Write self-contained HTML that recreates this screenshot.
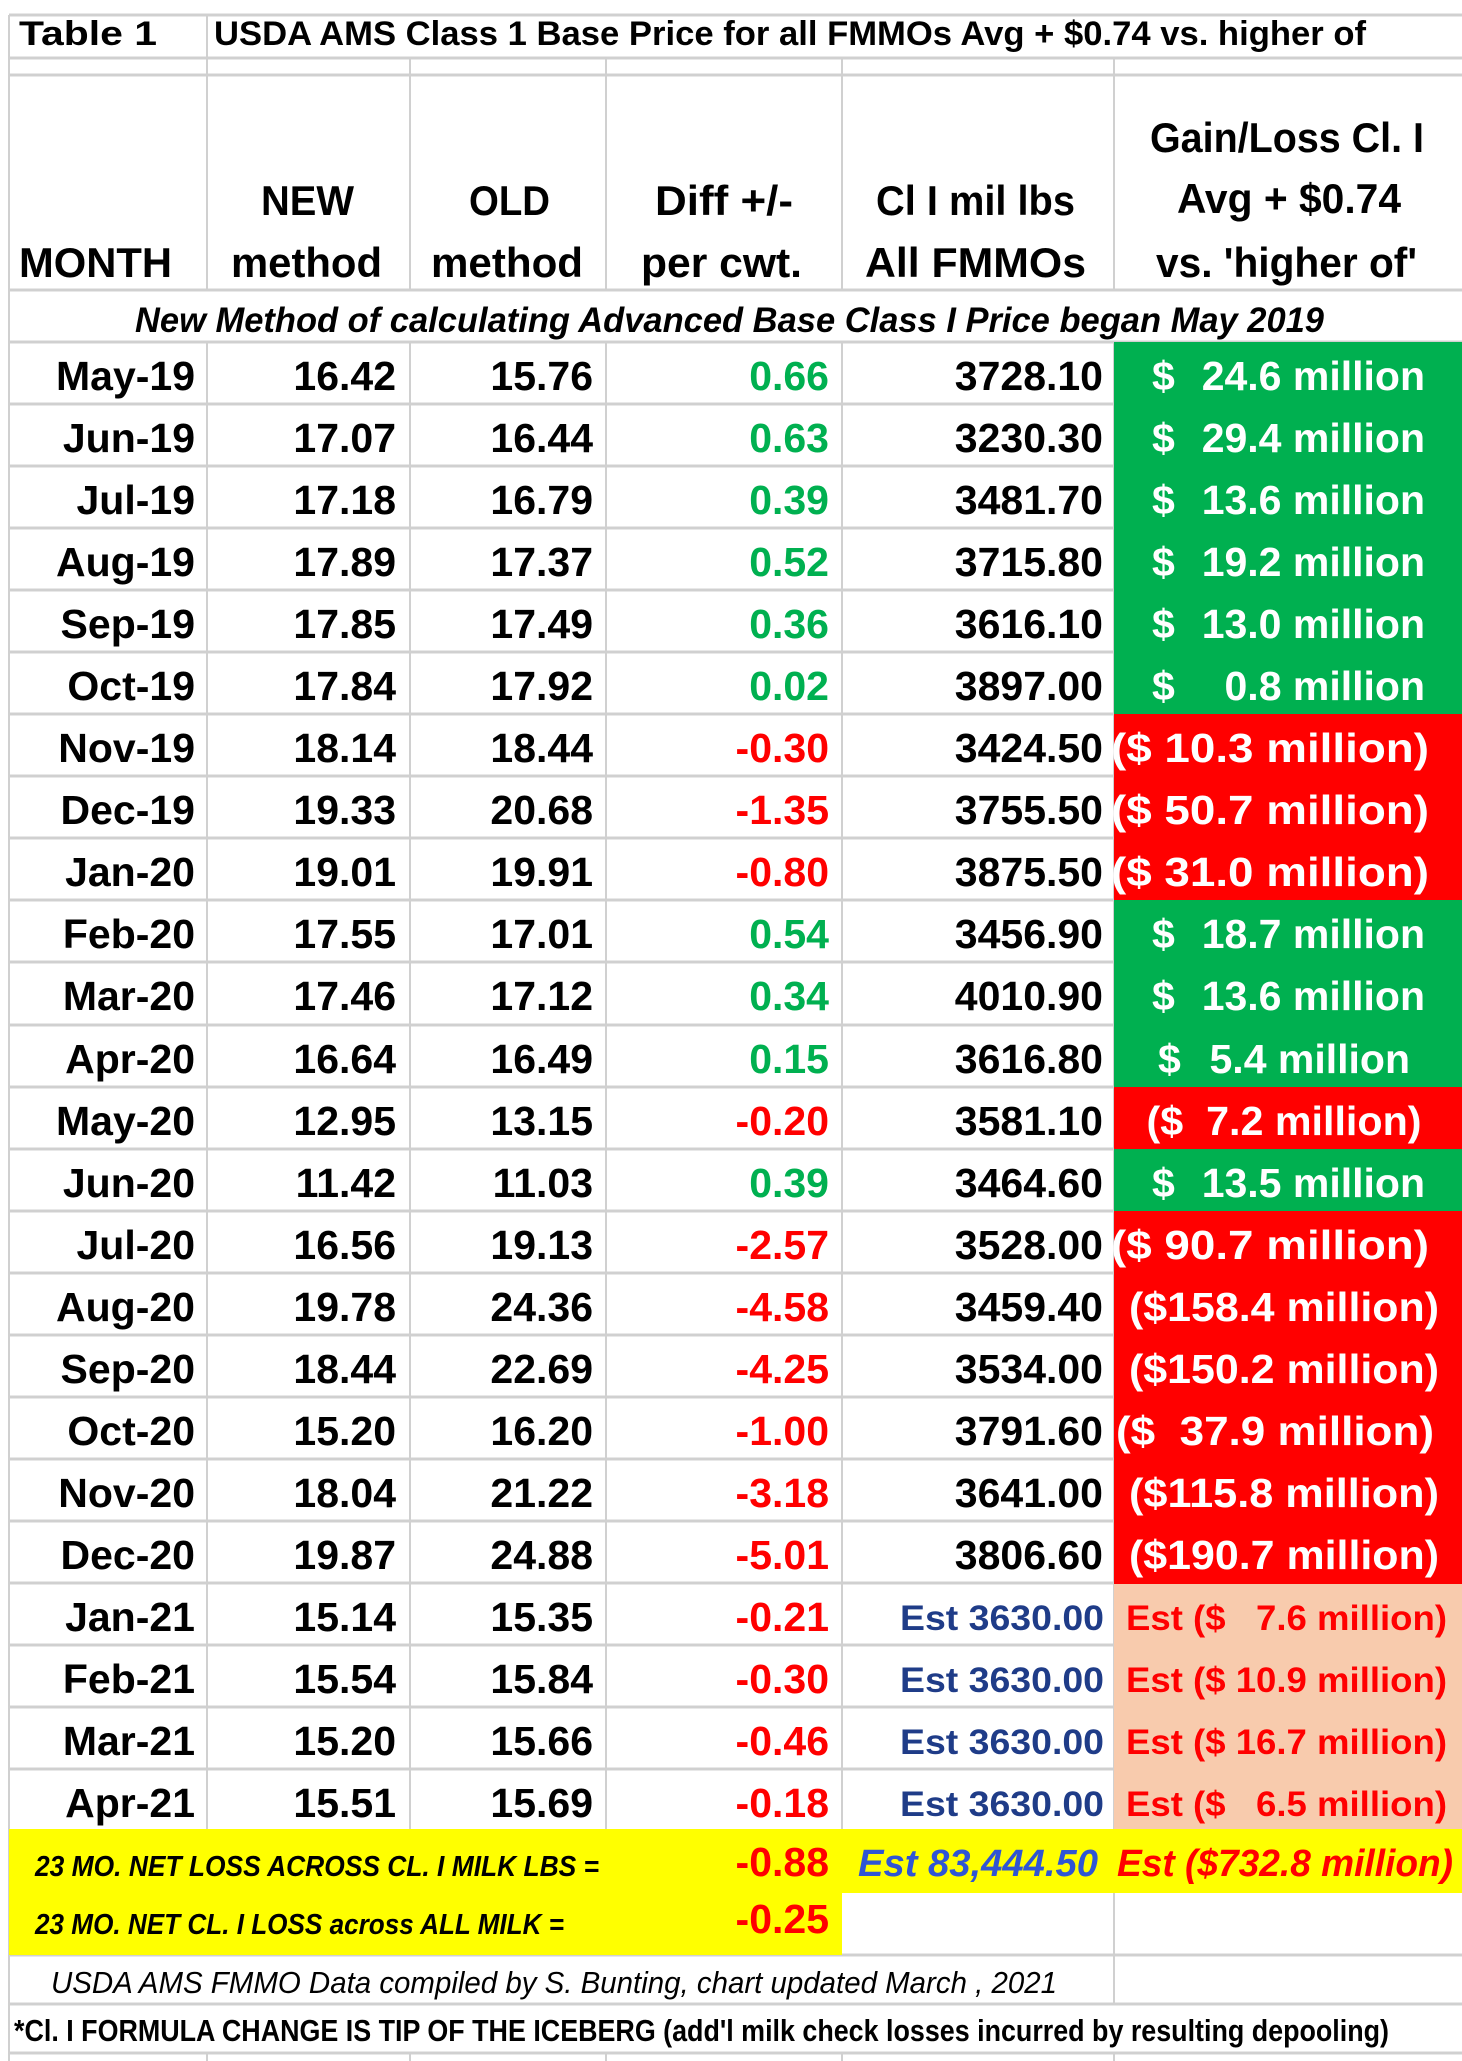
<!DOCTYPE html>
<html><head><meta charset="utf-8"><style>
html,body{margin:0;padding:0;background:#fff;}
svg{display:block;}
text{font-family:"Liberation Sans",sans-serif;white-space:pre;}
.d{font-size:41px;font-weight:bold;fill:#000;text-anchor:end;}
.g{fill:#00b050;} .r{fill:#ff0000;}
.w{font-size:41px;font-weight:bold;fill:#fff;}
.h{font-size:42px;font-weight:bold;fill:#000;}
.e{font-size:35px;font-weight:bold;fill:#1f3c88;text-anchor:end;}
.pe{font-size:35px;font-weight:bold;fill:#ff0000;}
</style></head><body>
<svg width="1462" height="2061" viewBox="0 0 1462 2061" xmlns="http://www.w3.org/2000/svg">
<rect width="1462" height="2061" fill="#fff"/>
<g stroke="#d0d0d0" stroke-width="3">
<line x1="9" y1="15" x2="1462" y2="15"/>
<line x1="9" y1="58" x2="1462" y2="58"/>
<line x1="9" y1="75" x2="1462" y2="75"/>
<line x1="9" y1="290" x2="1462" y2="290"/>
<line x1="9" y1="342" x2="1462" y2="342"/>
<line x1="9" y1="404" x2="1462" y2="404"/><line x1="9" y1="466" x2="1462" y2="466"/><line x1="9" y1="528" x2="1462" y2="528"/><line x1="9" y1="590" x2="1462" y2="590"/><line x1="9" y1="652" x2="1462" y2="652"/><line x1="9" y1="714" x2="1462" y2="714"/><line x1="9" y1="776" x2="1462" y2="776"/><line x1="9" y1="838" x2="1462" y2="838"/><line x1="9" y1="900" x2="1462" y2="900"/><line x1="9" y1="962" x2="1462" y2="962"/><line x1="9" y1="1025" x2="1462" y2="1025"/><line x1="9" y1="1087" x2="1462" y2="1087"/><line x1="9" y1="1149" x2="1462" y2="1149"/><line x1="9" y1="1211" x2="1462" y2="1211"/><line x1="9" y1="1273" x2="1462" y2="1273"/><line x1="9" y1="1335" x2="1462" y2="1335"/><line x1="9" y1="1397" x2="1462" y2="1397"/><line x1="9" y1="1459" x2="1462" y2="1459"/><line x1="9" y1="1521" x2="1462" y2="1521"/><line x1="9" y1="1583" x2="1462" y2="1583"/><line x1="9" y1="1645" x2="1462" y2="1645"/><line x1="9" y1="1707" x2="1462" y2="1707"/><line x1="9" y1="1769" x2="1462" y2="1769"/>
<line x1="9" y1="1955" x2="1462" y2="1955"/>
<line x1="9" y1="2004" x2="1462" y2="2004"/>
<line x1="9" y1="2053" x2="1462" y2="2053"/>
</g>
<g stroke="#d0d0d0" stroke-width="2">
<line x1="9" y1="15" x2="9" y2="2061"/>
<line x1="207" y1="15" x2="207" y2="290"/>
<line x1="410" y1="58" x2="410" y2="290"/><line x1="606" y1="58" x2="606" y2="290"/><line x1="842" y1="58" x2="842" y2="290"/><line x1="1114" y1="58" x2="1114" y2="290"/>
<line x1="207" y1="342" x2="207" y2="1831"/><line x1="410" y1="342" x2="410" y2="1831"/><line x1="606" y1="342" x2="606" y2="1831"/><line x1="842" y1="342" x2="842" y2="1831"/><line x1="1114" y1="342" x2="1114" y2="1831"/>
<line x1="1114" y1="1893" x2="1114" y2="2004"/>
<line x1="207" y1="2053" x2="207" y2="2061"/><line x1="410" y1="2053" x2="410" y2="2061"/><line x1="606" y1="2053" x2="606" y2="2061"/><line x1="842" y1="2053" x2="842" y2="2061"/><line x1="1114" y1="2053" x2="1114" y2="2061"/>
</g>
<g>
<rect x="1114" y="342" width="348" height="373" fill="#00b050"/>
<rect x="1114" y="714" width="348" height="187" fill="#ff0000"/>
<rect x="1114" y="900" width="348" height="187" fill="#00b050"/>
<rect x="1114" y="1087" width="348" height="62" fill="#ff0000"/>
<rect x="1114" y="1149" width="348" height="62" fill="#00b050"/>
<rect x="1114" y="1211" width="348" height="373" fill="#ff0000"/>
<rect x="1114" y="1584" width="348" height="246" fill="#f8cbad"/>
<rect x="9" y="1829" width="1453" height="64" fill="#ffff00"/>
<rect x="9" y="1893" width="833" height="62" fill="#ffff00"/>
</g>
<text x="19" y="45" class="h" textLength="138" lengthAdjust="spacingAndGlyphs" style="font-size:34px">Table 1</text>
<text x="214" y="45" class="h" textLength="1152" lengthAdjust="spacingAndGlyphs" style="font-size:34px">USDA AMS Class 1 Base Price for all FMMOs Avg + $0.74 vs. higher of</text>
<text x="19" y="277" class="h" textLength="153" lengthAdjust="spacingAndGlyphs">MONTH</text>
<text x="261" y="215" class="h" textLength="93" lengthAdjust="spacingAndGlyphs">NEW</text>
<text x="231" y="277" class="h" textLength="151" lengthAdjust="spacingAndGlyphs">method</text>
<text x="469" y="215" class="h" textLength="81" lengthAdjust="spacingAndGlyphs">OLD</text>
<text x="431" y="277" class="h" textLength="152" lengthAdjust="spacingAndGlyphs">method</text>
<text x="655" y="215" class="h" textLength="138" lengthAdjust="spacingAndGlyphs">Diff +/-</text>
<text x="641" y="277" class="h" textLength="161" lengthAdjust="spacingAndGlyphs">per cwt.</text>
<text x="876" y="215" class="h" textLength="199" lengthAdjust="spacingAndGlyphs">Cl I mil lbs</text>
<text x="865" y="277" class="h" textLength="221" lengthAdjust="spacingAndGlyphs">All FMMOs</text>
<text x="1150" y="152" class="h" textLength="274" lengthAdjust="spacingAndGlyphs">Gain/Loss Cl. I</text>
<text x="1177" y="213" class="h" textLength="224" lengthAdjust="spacingAndGlyphs">Avg + $0.74</text>
<text x="1156" y="277" class="h" textLength="261" lengthAdjust="spacingAndGlyphs">vs. 'higher of'</text>
<text x="135" y="332" class="h" textLength="1189" lengthAdjust="spacingAndGlyphs" style="font-size:35px;font-style:italic">New Method of calculating Advanced Base Class I Price began May 2019</text>

<g transform="translate(0,342)"><text x="195" y="48" class="d">May-19</text><text x="396" y="48" class="d">16.42</text><text x="593" y="48" class="d">15.76</text><text x="829" y="48" class="d g">0.66</text><text x="1103" y="48" class="d">3728.10</text><text x="1152" y="48" class="w">$</text><text x="1425" y="48" class="w" text-anchor="end">24.6 million</text></g>
<g transform="translate(0,404)"><text x="195" y="48" class="d">Jun-19</text><text x="396" y="48" class="d">17.07</text><text x="593" y="48" class="d">16.44</text><text x="829" y="48" class="d g">0.63</text><text x="1103" y="48" class="d">3230.30</text><text x="1152" y="48" class="w">$</text><text x="1425" y="48" class="w" text-anchor="end">29.4 million</text></g>
<g transform="translate(0,466)"><text x="195" y="48" class="d">Jul-19</text><text x="396" y="48" class="d">17.18</text><text x="593" y="48" class="d">16.79</text><text x="829" y="48" class="d g">0.39</text><text x="1103" y="48" class="d">3481.70</text><text x="1152" y="48" class="w">$</text><text x="1425" y="48" class="w" text-anchor="end">13.6 million</text></g>
<g transform="translate(0,528)"><text x="195" y="48" class="d">Aug-19</text><text x="396" y="48" class="d">17.89</text><text x="593" y="48" class="d">17.37</text><text x="829" y="48" class="d g">0.52</text><text x="1103" y="48" class="d">3715.80</text><text x="1152" y="48" class="w">$</text><text x="1425" y="48" class="w" text-anchor="end">19.2 million</text></g>
<g transform="translate(0,590)"><text x="195" y="48" class="d">Sep-19</text><text x="396" y="48" class="d">17.85</text><text x="593" y="48" class="d">17.49</text><text x="829" y="48" class="d g">0.36</text><text x="1103" y="48" class="d">3616.10</text><text x="1152" y="48" class="w">$</text><text x="1425" y="48" class="w" text-anchor="end">13.0 million</text></g>
<g transform="translate(0,652)"><text x="195" y="48" class="d">Oct-19</text><text x="396" y="48" class="d">17.84</text><text x="593" y="48" class="d">17.92</text><text x="829" y="48" class="d g">0.02</text><text x="1103" y="48" class="d">3897.00</text><text x="1152" y="48" class="w">$</text><text x="1425" y="48" class="w" text-anchor="end">0.8 million</text></g>
<g transform="translate(0,714)"><text x="195" y="48" class="d">Nov-19</text><text x="396" y="48" class="d">18.14</text><text x="593" y="48" class="d">18.44</text><text x="829" y="48" class="d r">-0.30</text><text x="1103" y="48" class="d">3424.50</text><text x="1270" y="48" class="w" text-anchor="middle" textLength="318" lengthAdjust="spacingAndGlyphs">($ 10.3 million)</text></g>
<g transform="translate(0,776)"><text x="195" y="48" class="d">Dec-19</text><text x="396" y="48" class="d">19.33</text><text x="593" y="48" class="d">20.68</text><text x="829" y="48" class="d r">-1.35</text><text x="1103" y="48" class="d">3755.50</text><text x="1270" y="48" class="w" text-anchor="middle" textLength="318" lengthAdjust="spacingAndGlyphs">($ 50.7 million)</text></g>
<g transform="translate(0,838)"><text x="195" y="48" class="d">Jan-20</text><text x="396" y="48" class="d">19.01</text><text x="593" y="48" class="d">19.91</text><text x="829" y="48" class="d r">-0.80</text><text x="1103" y="48" class="d">3875.50</text><text x="1270" y="48" class="w" text-anchor="middle" textLength="318" lengthAdjust="spacingAndGlyphs">($ 31.0 million)</text></g>
<g transform="translate(0,900)"><text x="195" y="48" class="d">Feb-20</text><text x="396" y="48" class="d">17.55</text><text x="593" y="48" class="d">17.01</text><text x="829" y="48" class="d g">0.54</text><text x="1103" y="48" class="d">3456.90</text><text x="1152" y="48" class="w">$</text><text x="1425" y="48" class="w" text-anchor="end">18.7 million</text></g>
<g transform="translate(0,962)"><text x="195" y="48" class="d">Mar-20</text><text x="396" y="48" class="d">17.46</text><text x="593" y="48" class="d">17.12</text><text x="829" y="48" class="d g">0.34</text><text x="1103" y="48" class="d">4010.90</text><text x="1152" y="48" class="w">$</text><text x="1425" y="48" class="w" text-anchor="end">13.6 million</text></g>
<g transform="translate(0,1025)"><text x="195" y="48" class="d">Apr-20</text><text x="396" y="48" class="d">16.64</text><text x="593" y="48" class="d">16.49</text><text x="829" y="48" class="d g">0.15</text><text x="1103" y="48" class="d">3616.80</text><text x="1158" y="48" class="w">$</text><text x="1410" y="48" class="w" text-anchor="end">5.4 million</text></g>
<g transform="translate(0,1087)"><text x="195" y="48" class="d">May-20</text><text x="396" y="48" class="d">12.95</text><text x="593" y="48" class="d">13.15</text><text x="829" y="48" class="d r">-0.20</text><text x="1103" y="48" class="d">3581.10</text><text x="1284" y="48" class="w" text-anchor="middle" textLength="275" lengthAdjust="spacingAndGlyphs">($  7.2 million)</text></g>
<g transform="translate(0,1149)"><text x="195" y="48" class="d">Jun-20</text><text x="396" y="48" class="d">11.42</text><text x="593" y="48" class="d">11.03</text><text x="829" y="48" class="d g">0.39</text><text x="1103" y="48" class="d">3464.60</text><text x="1152" y="48" class="w">$</text><text x="1425" y="48" class="w" text-anchor="end">13.5 million</text></g>
<g transform="translate(0,1211)"><text x="195" y="48" class="d">Jul-20</text><text x="396" y="48" class="d">16.56</text><text x="593" y="48" class="d">19.13</text><text x="829" y="48" class="d r">-2.57</text><text x="1103" y="48" class="d">3528.00</text><text x="1270" y="48" class="w" text-anchor="middle" textLength="318" lengthAdjust="spacingAndGlyphs">($ 90.7 million)</text></g>
<g transform="translate(0,1273)"><text x="195" y="48" class="d">Aug-20</text><text x="396" y="48" class="d">19.78</text><text x="593" y="48" class="d">24.36</text><text x="829" y="48" class="d r">-4.58</text><text x="1103" y="48" class="d">3459.40</text><text x="1284" y="48" class="w" text-anchor="middle" textLength="310" lengthAdjust="spacingAndGlyphs">($158.4 million)</text></g>
<g transform="translate(0,1335)"><text x="195" y="48" class="d">Sep-20</text><text x="396" y="48" class="d">18.44</text><text x="593" y="48" class="d">22.69</text><text x="829" y="48" class="d r">-4.25</text><text x="1103" y="48" class="d">3534.00</text><text x="1284" y="48" class="w" text-anchor="middle" textLength="310" lengthAdjust="spacingAndGlyphs">($150.2 million)</text></g>
<g transform="translate(0,1397)"><text x="195" y="48" class="d">Oct-20</text><text x="396" y="48" class="d">15.20</text><text x="593" y="48" class="d">16.20</text><text x="829" y="48" class="d r">-1.00</text><text x="1103" y="48" class="d">3791.60</text><text x="1275" y="48" class="w" text-anchor="middle" textLength="318" lengthAdjust="spacingAndGlyphs">($  37.9 million)</text></g>
<g transform="translate(0,1459)"><text x="195" y="48" class="d">Nov-20</text><text x="396" y="48" class="d">18.04</text><text x="593" y="48" class="d">21.22</text><text x="829" y="48" class="d r">-3.18</text><text x="1103" y="48" class="d">3641.00</text><text x="1284" y="48" class="w" text-anchor="middle" textLength="310" lengthAdjust="spacingAndGlyphs">($115.8 million)</text></g>
<g transform="translate(0,1521)"><text x="195" y="48" class="d">Dec-20</text><text x="396" y="48" class="d">19.87</text><text x="593" y="48" class="d">24.88</text><text x="829" y="48" class="d r">-5.01</text><text x="1103" y="48" class="d">3806.60</text><text x="1284" y="48" class="w" text-anchor="middle" textLength="310" lengthAdjust="spacingAndGlyphs">($190.7 million)</text></g>
<g transform="translate(0,1583)"><text x="195" y="48" class="d">Jan-21</text><text x="396" y="48" class="d">15.14</text><text x="593" y="48" class="d">15.35</text><text x="829" y="48" class="d r">-0.21</text><text x="1104" y="47" class="e" textLength="204" lengthAdjust="spacingAndGlyphs">Est 3630.00</text><text x="1126" y="47" class="pe" textLength="321" lengthAdjust="spacingAndGlyphs">Est ($   7.6 million)</text></g>
<g transform="translate(0,1645)"><text x="195" y="48" class="d">Feb-21</text><text x="396" y="48" class="d">15.54</text><text x="593" y="48" class="d">15.84</text><text x="829" y="48" class="d r">-0.30</text><text x="1104" y="47" class="e" textLength="204" lengthAdjust="spacingAndGlyphs">Est 3630.00</text><text x="1126" y="47" class="pe" textLength="321" lengthAdjust="spacingAndGlyphs">Est ($ 10.9 million)</text></g>
<g transform="translate(0,1707)"><text x="195" y="48" class="d">Mar-21</text><text x="396" y="48" class="d">15.20</text><text x="593" y="48" class="d">15.66</text><text x="829" y="48" class="d r">-0.46</text><text x="1104" y="47" class="e" textLength="204" lengthAdjust="spacingAndGlyphs">Est 3630.00</text><text x="1126" y="47" class="pe" textLength="321" lengthAdjust="spacingAndGlyphs">Est ($ 16.7 million)</text></g>
<g transform="translate(0,1769)"><text x="195" y="48" class="d">Apr-21</text><text x="396" y="48" class="d">15.51</text><text x="593" y="48" class="d">15.69</text><text x="829" y="48" class="d r">-0.18</text><text x="1104" y="47" class="e" textLength="204" lengthAdjust="spacingAndGlyphs">Est 3630.00</text><text x="1126" y="47" class="pe" textLength="321" lengthAdjust="spacingAndGlyphs">Est ($   6.5 million)</text></g>

<text x="35" y="1876" textLength="564" lengthAdjust="spacingAndGlyphs" style="font-size:29px;font-weight:bold;font-style:italic;fill:#000">23 MO. NET LOSS ACROSS CL. I MILK LBS =</text>
<text x="829" y="1876" class="d r">-0.88</text>
<text x="858" y="1876" textLength="240" lengthAdjust="spacingAndGlyphs" style="font-size:38px;font-weight:bold;font-style:italic;fill:#2f55d4">Est 83,444.50</text>
<text x="1117" y="1876" textLength="336" lengthAdjust="spacingAndGlyphs" style="font-size:38px;font-weight:bold;font-style:italic;fill:#ff0000">Est ($732.8 million)</text>
<text x="35" y="1934" textLength="529" lengthAdjust="spacingAndGlyphs" style="font-size:29px;font-weight:bold;font-style:italic;fill:#000">23 MO. NET CL. I LOSS across ALL MILK =</text>
<text x="829" y="1933" class="d r">-0.25</text>

<text x="51" y="1993" textLength="1006" lengthAdjust="spacingAndGlyphs" style="font-size:31px;font-style:italic;fill:#000">USDA AMS FMMO Data compiled by S. Bunting, chart updated March , 2021</text>
<text x="14" y="2041" textLength="1375" lengthAdjust="spacingAndGlyphs" style="font-size:31px;font-weight:bold;fill:#000">*Cl. I FORMULA CHANGE IS TIP OF THE ICEBERG (add'l milk check losses incurred by resulting depooling)</text>
</svg>
</body></html>
